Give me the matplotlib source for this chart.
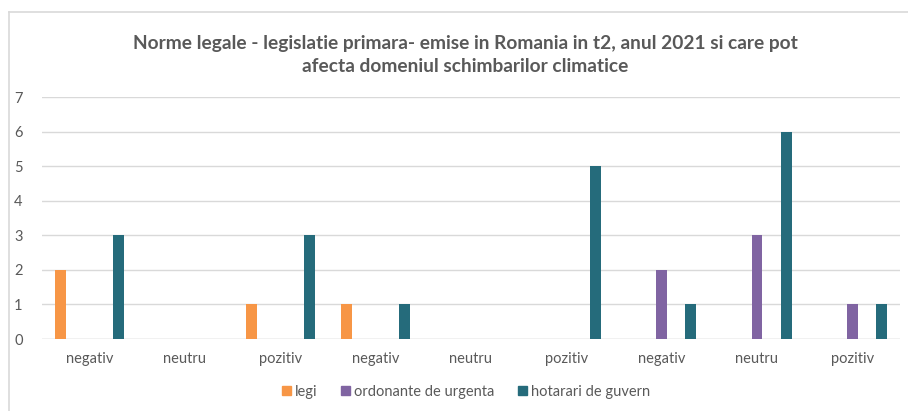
import matplotlib
matplotlib.use("Agg")
import matplotlib.pyplot as plt
import numpy as np
from matplotlib.patches import Rectangle
from matplotlib.lines import Line2D

categories = ["negativ", "neutru", "pozitiv", "negativ", "neutru", "pozitiv",
              "negativ", "neutru", "pozitiv"]
legi = [2, 0, 1, 1, 0, 0, 0, 0, 0]
ordonante = [0, 0, 0, 0, 0, 0, 2, 3, 1]
hotarari = [3, 0, 3, 1, 0, 5, 1, 6, 1]
series_names = ["legi", "ordonante de urgenta", "hotarari de guvern"]
colors = ["#F79646", "#8064A2", "#256B7B"]
title = "Norme legale - legislatie primara- emise in Romania in t2, anul 2021 si care pot\nafecta domeniul schimbarilor climatice"

plt.rcParams['font.family'] = ['Lato', 'DejaVu Sans']

fig = plt.figure(figsize=(9.08, 4.11), dpi=100)
ax = fig.add_axes([42/908, 1-339/411, 858/908, 242/411])

x = np.arange(len(categories))
off = 0.305
w = 0.115
for i, (vals, c, name) in enumerate(zip([legi, ordonante, hotarari], colors, series_names)):
    ax.bar(x + (i-1)*off, vals, width=w, color=c, label=name, zorder=3)

ax.set_xlim(-0.5, len(categories)-0.5)
ax.set_ylim(0, 7)
ax.set_yticks(range(0, 8))
ax.yaxis.grid(True, color="#D9D9D9", linewidth=1, zorder=0)
for s in ax.spines.values():
    s.set_visible(False)
ax.tick_params(axis='both', length=0, colors="#595959", labelsize=10.5)
ax.tick_params(axis='y', pad=14)
ax.tick_params(axis='x', pad=9)
ax.set_xticks(x)
ax.set_xticklabels(categories)
ax.axhline(0, color="#D9D9D9", linewidth=1, zorder=2)

fig.text(465/908, 1-55/411, title, ha='center', va='center', fontsize=13.8,
         fontweight='bold', color="#595959", linespacing=1.45)

handles = [Rectangle((0, 0), 1, 1, color=c) for c in colors]
leg = fig.legend(handles, series_names, loc='center', bbox_to_anchor=(466/908, 1-392/411),
                 ncol=3, frameon=False, fontsize=10.5, handlelength=0.6, handleheight=0.6,
                 handletextpad=0.3, columnspacing=1.6)
for t in leg.get_texts():
    t.set_color("#595959")

# chart border
fig.add_artist(Line2D([9/908, 9/908], [0, 1-12/411], color="#D9D9D9", linewidth=1.2,
                      transform=fig.transFigure))
fig.add_artist(Line2D([9/908, 1], [1-12/411, 1-12/411], color="#D9D9D9", linewidth=1.2,
                      transform=fig.transFigure))

fig.savefig("out.png", dpi=100)
